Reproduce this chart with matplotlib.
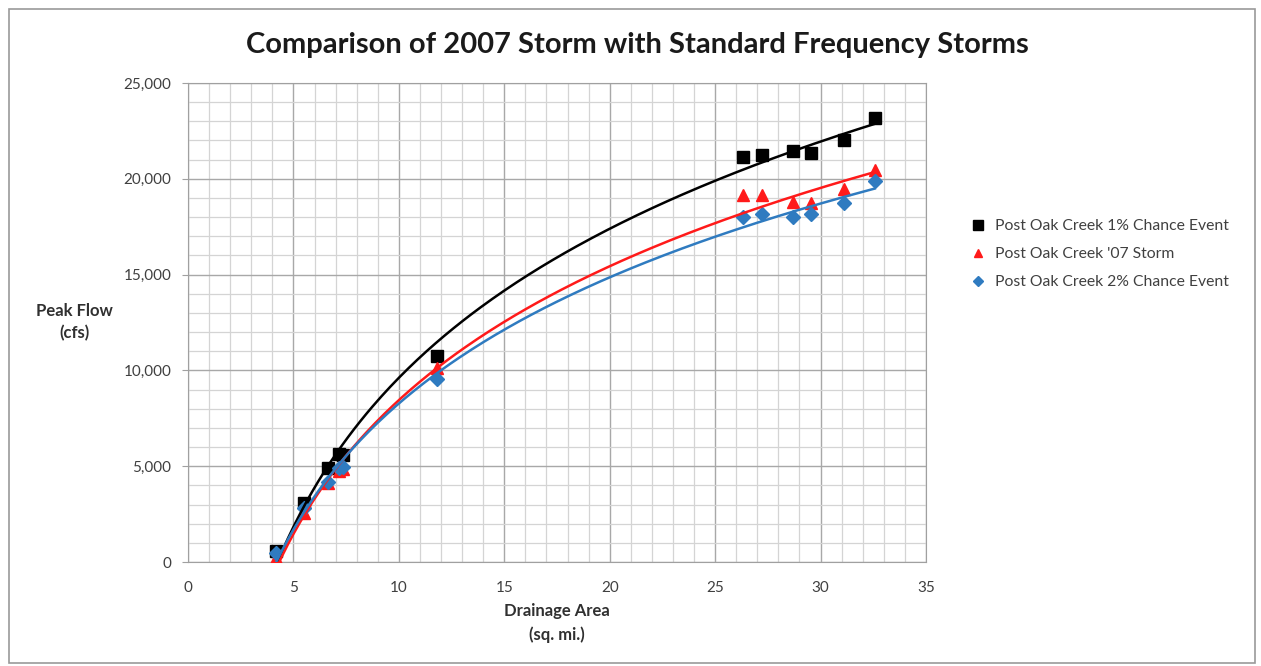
import numpy as np
import matplotlib.pyplot as plt
from matplotlib.patches import Rectangle
from matplotlib.ticker import MultipleLocator, FuncFormatter

# --- data ---
area = [4.17, 5.5, 6.62, 7.17, 7.37, 11.8, 26.3, 27.2, 28.7, 29.55, 31.1, 32.57]
flow_1pct = [550, 3100, 4900, 5650, 5600, 10770, 21150, 21250, 21450, 21360, 22030, 23160]

area_07 = [4.17, 5.5, 6.62, 7.17, 7.37, 11.8, 26.3, 27.2, 28.7, 29.55, 31.1, 32.57]
flow_07 = [200, 2550, 4100, 4750, 4850, 10120, 19150, 19150, 18800, 18750, 19470, 20460]

area_2pct = [4.17, 5.5, 6.62, 7.17, 7.37, 11.8, 26.3, 27.2, 28.7, 29.55, 31.1, 32.57]
flow_2pct = [460, 2800, 4190, 4900, 4970, 9550, 18020, 18160, 18020, 18160, 18750, 19900]

labels = ["Post Oak Creek 1% Chance Event", "Post Oak Creek '07 Storm",
          "Post Oak Creek 2% Chance Event"]

plt.rcParams['font.family'] = ['Lato', 'DejaVu Sans']

fig = plt.figure(figsize=(12.61, 6.66), dpi=100)
ax = fig.add_axes([188 / 1261, 1 - 562 / 666, (926 - 188) / 1261, (562 - 83) / 666])

# outer chart border
fig.patches.append(Rectangle((9 / 1261, 3 / 666), 1246 / 1261, 654 / 666,
                             transform=fig.transFigure, fill=False,
                             edgecolor='#9a9a9a', linewidth=1.2))


def log_trend(x, y):
    # excel-style logarithmic trendline
    b, a = np.polyfit(np.log(x), y, 1)
    xs = np.linspace(min(x), max(x), 200)
    return xs, b * np.log(xs) + a


series = [
    (area, flow_1pct, 'black', 's', 9, labels[0]),
    (area_07, flow_07, '#ff1a1a', '^', 8, labels[1]),
    (area_2pct, flow_2pct, '#2f7bc0', 'D', 7, labels[2]),
]

for x, y, col, mk, ms, lab in series:
    ax.plot(x, y, linestyle='none', marker=mk, color=col, markersize=ms, label=lab, zorder=3)
    xs, ys = log_trend(x, y)
    ax.plot(xs, ys, color=col, linewidth=1.8, zorder=4)

ax.set_xlim(0, 35)
ax.set_ylim(0, 25000)
ax.xaxis.set_major_locator(MultipleLocator(5))
ax.xaxis.set_minor_locator(MultipleLocator(1))
ax.yaxis.set_major_locator(MultipleLocator(5000))
ax.yaxis.set_minor_locator(MultipleLocator(1000))
ax.yaxis.set_major_formatter(FuncFormatter(lambda v, p: f"{int(v):,}"))

ax.grid(True, which='major', color='#a8a8a8', linewidth=1.0)
ax.grid(True, which='minor', color='#d4d4d4', linewidth=0.9)
ax.set_axisbelow(True)
for s in ax.spines.values():
    s.set_color('#a0a0a0')
ax.tick_params(which='both', length=0, labelsize=11, colors='#404040')
ax.tick_params(which='major', axis='y', length=4, color='#a0a0a0', pad=8)
ax.tick_params(which='major', axis='x', pad=14)

fig.text(557 / 1261, 1 - 623 / 666, "Drainage Area\n(sq. mi.)", fontsize=12,
         fontweight='bold', color='#303030', ha='center', va='center',
         multialignment='center', linespacing=1.5)
fig.text(74 / 1261, 1 - 322 / 666, "Peak Flow\n(cfs)", fontsize=12, fontweight='bold',
         color='#303030', ha='center', va='center', multialignment='center',
         linespacing=1.5)

fig.text(637 / 1261, 1 - 45 / 666, "Comparison of 2007 Storm with Standard Frequency Storms",
         fontsize=21, fontweight='bold', ha='center', va='center', color='#1a1a1a')

leg = ax.legend(loc='upper left', bbox_to_anchor=(954 / 1261, 1 - 205 / 666),
                bbox_transform=fig.transFigure, frameon=False, fontsize=11.3,
                handletextpad=0.5, labelspacing=0.9, handlelength=1.2, markerscale=0.8)
for t in leg.get_texts():
    t.set_color('#404040')

plt.savefig("out.png", dpi=100)
